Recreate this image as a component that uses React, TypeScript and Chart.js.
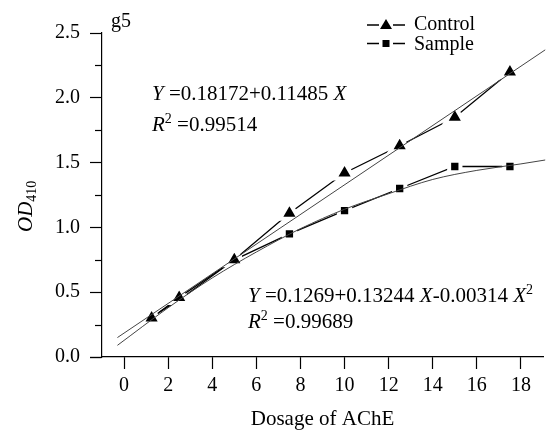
import React, { useEffect, useRef } from 'react';
import { Chart, registerables } from 'chart.js';

Chart.register(...registerables);

// ---- data ----
const doses = [1.25, 2.5, 5, 7.5, 10, 12.5, 15, 17.5];
const controlOD = [0.3, 0.46, 0.75, 1.11, 1.42, 1.63, 1.85, 2.2];
const sampleOD = [0.31, 0.44, 0.75, 0.95, 1.13, 1.3, 1.47, 1.47];
const linearFitX = [-0.3, 19.1];
const linearFitY = [0.15, 2.37];
const quadFitX = [-0.3, 2, 4, 6, 8, 10, 12, 14, 16, 18, 19.1];
const quadFitY = [0.09, 0.38, 0.61, 0.81, 0.99, 1.14, 1.26, 1.37, 1.44, 1.49, 1.52];
const xTicks = [0, 2, 4, 6, 8, 10, 12, 14, 16, 18];
const yTicks = [0, 0.5, 1.0, 1.5, 2.0, 2.5];
const yMinorTicks = [0.25, 0.75, 1.25, 1.75, 2.25];

const FONT = '"Liberation Serif", "Times New Roman", serif';

type Run = { text: string; italic?: boolean; size?: number; dy?: number };

function drawRuns(ctx: CanvasRenderingContext2D, x: number, y: number, runs: Run[], baseSize: number) {
  let cx = x;
  for (const r of runs) {
    const size = r.size ?? baseSize;
    ctx.font = `${r.italic ? 'italic ' : ''}${size}px ${FONT}`;
    ctx.fillText(r.text, cx, y + (r.dy ?? 0));
    cx += ctx.measureText(r.text).width;
  }
}

const decorPlugin = {
  id: 'decor',
  afterDraw(chart: any) {
    const ctx: CanvasRenderingContext2D = chart.ctx;
    const { left, bottom } = chart.chartArea;
    const yScale = chart.scales.y;
    ctx.save();
    ctx.strokeStyle = '#000';
    ctx.fillStyle = '#000';
    ctx.lineWidth = 1.2;
    // minor y ticks
    for (const v of yMinorTicks) {
      const py = Math.round(yScale.getPixelForValue(v)) + 0.5;
      ctx.beginPath();
      ctx.moveTo(left - 7, py);
      ctx.lineTo(left, py);
      ctx.stroke();
    }
    // x axis line extension left of y axis
    ctx.beginPath();
    ctx.moveTo(left - 12, Math.round(bottom) + 0.5);
    ctx.lineTo(left, Math.round(bottom) + 0.5);
    ctx.stroke();

    ctx.textBaseline = 'alphabetic';
    ctx.textAlign = 'left';
    // panel label
    ctx.font = `20px ${FONT}`;
    ctx.fillText('g5', 111, 27);

    // y axis title (rotated)
    ctx.save();
    ctx.translate(32, 232);
    ctx.rotate(-Math.PI / 2);
    drawRuns(ctx, 0, 0, [{ text: 'OD', italic: true }, { text: '410', size: 14, dy: 4 }], 21);
    ctx.restore();

    // equations
    drawRuns(ctx, 152, 100, [
      { text: 'Y', italic: true },
      { text: ' =0.18172+0.11485 ' },
      { text: 'X', italic: true },
    ], 21);
    drawRuns(ctx, 152, 131, [
      { text: 'R', italic: true },
      { text: '2', size: 14, dy: -8 },
      { text: ' =0.99514' },
    ], 21);
    drawRuns(ctx, 248, 302, [
      { text: 'Y', italic: true },
      { text: ' =0.1269+0.13244 ' },
      { text: 'X', italic: true },
      { text: '-0.00314 ' },
      { text: 'X', italic: true },
      { text: '2', size: 14, dy: -8 },
    ], 21);
    drawRuns(ctx, 248, 328, [
      { text: 'R', italic: true },
      { text: '2', size: 14, dy: -8 },
      { text: ' =0.99689' },
    ], 21);

    // legend
    ctx.lineWidth = 1.3;
    const rows = [
      { y: 25, label: 'Control', shape: 'tri', ty: 30 },
      { y: 43.5, label: 'Sample', shape: 'sq', ty: 50 },
    ];
    for (const r of rows) {
      ctx.beginPath();
      ctx.moveTo(367, r.y);
      ctx.lineTo(379, r.y);
      ctx.moveTo(393, r.y);
      ctx.lineTo(405, r.y);
      ctx.stroke();
      ctx.beginPath();
      if (r.shape === 'tri') {
        ctx.moveTo(386, r.y - 6);
        ctx.lineTo(392, r.y + 4);
        ctx.lineTo(380, r.y + 4);
        ctx.closePath();
      } else {
        ctx.rect(382.5, r.y - 3.5, 7, 7);
      }
      ctx.fill();
      ctx.font = `20px ${FONT}`;
      ctx.fillText(r.label, 414, r.ty);
    }
    ctx.restore();
  },
};

export default function App() {
  const ref = useRef<HTMLCanvasElement | null>(null);
  useEffect(() => {
    if (!ref.current) return;
    const chart = new Chart(ref.current, {
      type: 'line',
      data: {
        datasets: [
          {
            label: 'Linear fit',
            data: linearFitX.map((x, i) => ({ x, y: linearFitY[i] })),
            borderColor: '#444',
            borderWidth: 1,
            pointRadius: 0,
            order: 0,
            clip: false,
          } as any,
          {
            label: 'Quadratic fit',
            data: quadFitX.map((x, i) => ({ x, y: quadFitY[i] })),
            borderColor: '#444',
            borderWidth: 1,
            pointRadius: 0,
            cubicInterpolationMode: 'monotone',
            order: 0,
            clip: false,
          } as any,
          {
            label: 'Control',
            data: doses.map((x, i) => ({ x, y: controlOD[i] })),
            borderColor: '#000',
            borderWidth: 1.3,
            pointStyle: 'triangle',
            pointRadius: 11,
            pointBackgroundColor: '#000',
            pointBorderColor: '#fff',
            pointBorderWidth: 4,
            order: 1,
          } as any,
          {
            label: 'Sample',
            data: doses.map((x, i) => ({ x, y: sampleOD[i] })),
            borderColor: '#000',
            borderWidth: 1.3,
            pointStyle: 'rect',
            pointRadius: 8,
            pointBackgroundColor: '#000',
            pointBorderColor: '#fff',
            pointBorderWidth: 4,
            order: 1,
          } as any,
        ],
      },
      options: {
        animation: false,
        responsive: false,
        layout: { autoPadding: false, padding: { left: 0, right: 4, top: 33, bottom: 0 } },
        plugins: { legend: { display: false }, tooltip: { enabled: false } },
        events: [],
        scales: {
          x: {
            type: 'linear',
            min: -1,
            max: 19,
            afterBuildTicks: (s: any) => {
              s.ticks = xTicks.map((v) => ({ value: v }));
            },
            afterFit: (s: any) => {
              s.height = 73;
              s.paddingLeft = 0;
              s.paddingRight = 0;
            },
            grid: { drawOnChartArea: false, drawTicks: true, tickLength: 12, tickColor: '#000', tickWidth: 1.2 },
            border: { display: true, color: '#000', width: 1.2 },
            ticks: {
              color: '#000',
              font: { family: FONT, size: 20 },
              padding: 5,
              maxRotation: 0,
              autoSkip: false,
              callback: (v: any) => String(v),
            },
            title: {
              display: true,
              text: 'Dosage of AChE',
              color: '#000',
              font: { family: FONT, size: 21, lineHeight: 1 },
              padding: { top: 0, bottom: 0 },
            },
          },
          y: {
            type: 'linear',
            min: 0,
            max: 2.5,
            afterBuildTicks: (s: any) => {
              s.ticks = yTicks.map((v) => ({ value: v }));
            },
            afterFit: (s: any) => {
              s.width = 102;
              s.paddingTop = 0;
              s.paddingBottom = 0;
            },
            grid: { drawOnChartArea: false, drawTicks: true, tickLength: 12, tickColor: '#000', tickWidth: 1.2 },
            border: { display: true, color: '#000', width: 1.2 },
            ticks: {
              color: '#000',
              font: { family: FONT, size: 20 },
              padding: 10,
              autoSkip: false,
              callback: (v: any) => Number(v).toFixed(1),
            },
          },
        },
      } as any,
      plugins: [decorPlugin],
    });
    return () => chart.destroy();
  }, []);
  return (
    <div style={{ position: 'fixed', left: 0, top: 0, width: 547, height: 430, background: '#fff' }}>
      <canvas ref={ref} width={547} height={430} style={{ display: 'block', width: 547, height: 430 }} />
    </div>
  );
}
